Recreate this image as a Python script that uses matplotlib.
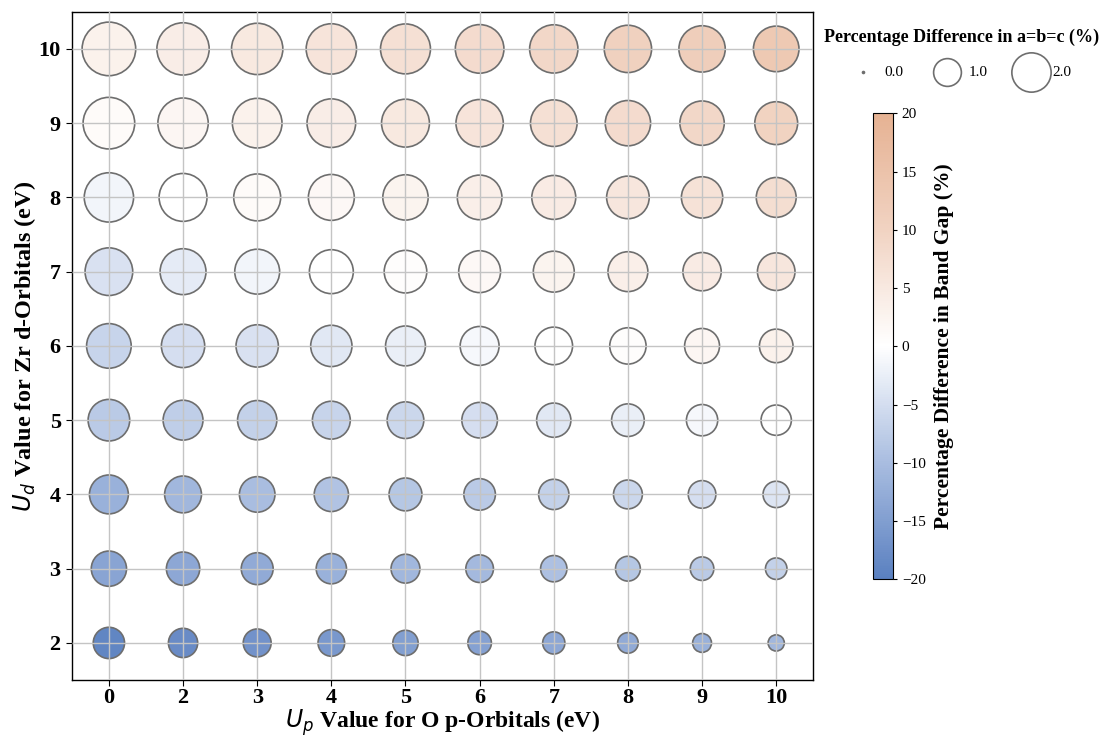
import numpy as np
import matplotlib
matplotlib.use("Agg")
import matplotlib.pyplot as plt
from matplotlib.colors import LinearSegmentedColormap, Normalize

up_labels = ["0", "2", "3", "4", "5", "6", "7", "8", "9", "10"]
ud_labels = ["2", "3", "4", "5", "6", "7", "8", "9", "10"]

# Percentage difference in lattice constant a=b=c (%) ; rows = Ud 2..10, cols = Up labels
lattice_diff = [
    [1.27, 1.11, 1.01, 0.92, 0.83, 0.72, 0.64, 0.55, 0.46, 0.34],  # Ud=2
    [1.61, 1.44, 1.32, 1.19, 1.08, 0.99, 0.90, 0.80, 0.72, 0.60],  # Ud=3
    [1.96, 1.76, 1.64, 1.52, 1.40, 1.29, 1.19, 1.08, 0.99, 0.90],  # Ud=4
    [2.24, 2.06, 2.00, 1.86, 1.74, 1.64, 1.52, 1.38, 1.27, 1.19],  # Ud=5
    [2.58, 2.43, 2.32, 2.21, 2.06, 1.96, 1.83, 1.71, 1.58, 1.46],  # Ud=6
    [2.94, 2.73, 2.61, 2.50, 2.35, 2.27, 2.17, 2.06, 1.90, 1.83],  # Ud=7
    [3.15, 2.97, 2.85, 2.73, 2.66, 2.58, 2.50, 2.35, 2.21, 2.06],  # Ud=8
    [3.45, 3.28, 3.19, 3.06, 2.97, 2.90, 2.81, 2.66, 2.55, 2.38],  # Ud=9
    [3.72, 3.54, 3.41, 3.28, 3.23, 3.06, 3.02, 2.90, 2.78, 2.69],  # Ud=10
]

# Percentage difference in band gap (%)
bandgap_diff = [
    [-19.0, -18.0, -17.0, -16.0, -15.0, -14.5, -13.5, -13.0, -12.0, -11.0],
    [-14.0, -13.5, -13.0, -12.0, -11.0, -10.5, -9.5, -8.5, -8.0, -7.0],
    [-12.0, -11.0, -10.0, -9.0, -8.5, -8.0, -7.0, -6.0, -5.0, -4.0],
    [-8.0, -7.5, -7.0, -6.5, -6.0, -5.0, -3.5, -2.5, -1.0, 0.0],
    [-6.5, -5.0, -4.5, -3.5, -2.5, -1.0, 0.0, 0.5, 2.0, 3.0],
    [-4.5, -3.0, -1.5, 0.0, 0.5, 1.5, 2.5, 3.5, 4.5, 5.5],
    [-1.5, 0.0, 1.0, 1.5, 2.5, 3.5, 4.5, 5.5, 6.5, 7.5],
    [1.0, 2.0, 3.0, 4.0, 5.0, 6.0, 7.0, 8.0, 9.0, 10.0],
    [3.0, 4.0, 5.0, 6.0, 7.0, 8.0, 9.0, 10.5, 11.5, 13.0],
]

legend_values = [0.0, 1.0, 2.0]
cbar_ticks = [-20, -15, -10, -5, 0, 5, 10, 15, 20]

SIZE_SCALE = 400

plt.rcParams['font.family'] = ['Liberation Serif', 'DejaVu Sans']
plt.rcParams['mathtext.fontset'] = 'dejavusans'

cmap = LinearSegmentedColormap.from_list(
    "bg", ["#5a80c0", "#a9bde0", "#ffffff", "#f1d3c2", "#e6b293"])
norm = Normalize(vmin=-20, vmax=20)

fig = plt.figure(figsize=(11.05, 7.36), dpi=100)
ax = fig.add_axes([0.065, 0.076, 0.671, 0.908])

L = np.array(lattice_diff)
B = np.array(bandgap_diff)
xi, yi = np.meshgrid(np.arange(len(up_labels)), np.arange(len(ud_labels)))

sc = ax.scatter(xi.ravel(), yi.ravel(), s=L.ravel() * SIZE_SCALE, c=B.ravel(),
                cmap=cmap, norm=norm, edgecolors="#6e6e6e", linewidths=1.2, zorder=2)

ax.set_axisbelow(False)
ax.grid(True, color="#c4c4c4", linewidth=1.0, zorder=3)
ax.set_xlim(-0.5, len(up_labels) - 0.5)
ax.set_ylim(-0.5, len(ud_labels) - 0.5)
ax.set_xticks(np.arange(len(up_labels)))
ax.set_xticklabels(up_labels)
ax.set_yticks(np.arange(len(ud_labels)))
ax.set_yticklabels(ud_labels)
for lab in ax.get_xticklabels() + ax.get_yticklabels():
    lab.set_fontweight("bold")
    lab.set_fontsize(16)
ax.tick_params(axis="x", length=4, width=0.8, pad=2)
ax.tick_params(axis="y", length=4, width=0.8, pad=4)
for sp in ax.spines.values():
    sp.set_linewidth(1.0)

ax.set_xlabel("$U_p$ Value for O p-Orbitals (eV)", fontsize=17, fontweight="bold", labelpad=-1)
ax.set_ylabel("$U_d$ Value for Zr d-Orbitals (eV)", fontsize=17.5, fontweight="bold", labelpad=0)

cax = fig.add_axes([0.790, 0.213, 0.018, 0.633])
cb = fig.colorbar(sc, cax=cax, ticks=cbar_ticks)
cb.ax.tick_params(labelsize=11, length=3, width=0.8)
cb.set_label("Percentage Difference in Band Gap (%)", fontsize=15.5, fontweight="bold", labelpad=6)
cb.outline.set_linewidth(0.8)

fig.text(0.870, 0.9497, "Percentage Difference in a=b=c (%)", ha="center", va="center",
         fontsize=13, fontweight="bold")
handles = [ax.scatter([], [], s=max(v * SIZE_SCALE, 2), facecolors="white",
                      edgecolors="#6e6e6e", linewidths=1.2)
           for v in legend_values]
leg = fig.legend(handles, [f"{v:.1f}" for v in legend_values], ncol=3, frameon=False,
                 loc="center", bbox_to_anchor=(0.8685, 0.902),
                 fontsize=11, columnspacing=1.85, handletextpad=0.4, borderpad=0.2)

fig.savefig("out.png", dpi=100)
